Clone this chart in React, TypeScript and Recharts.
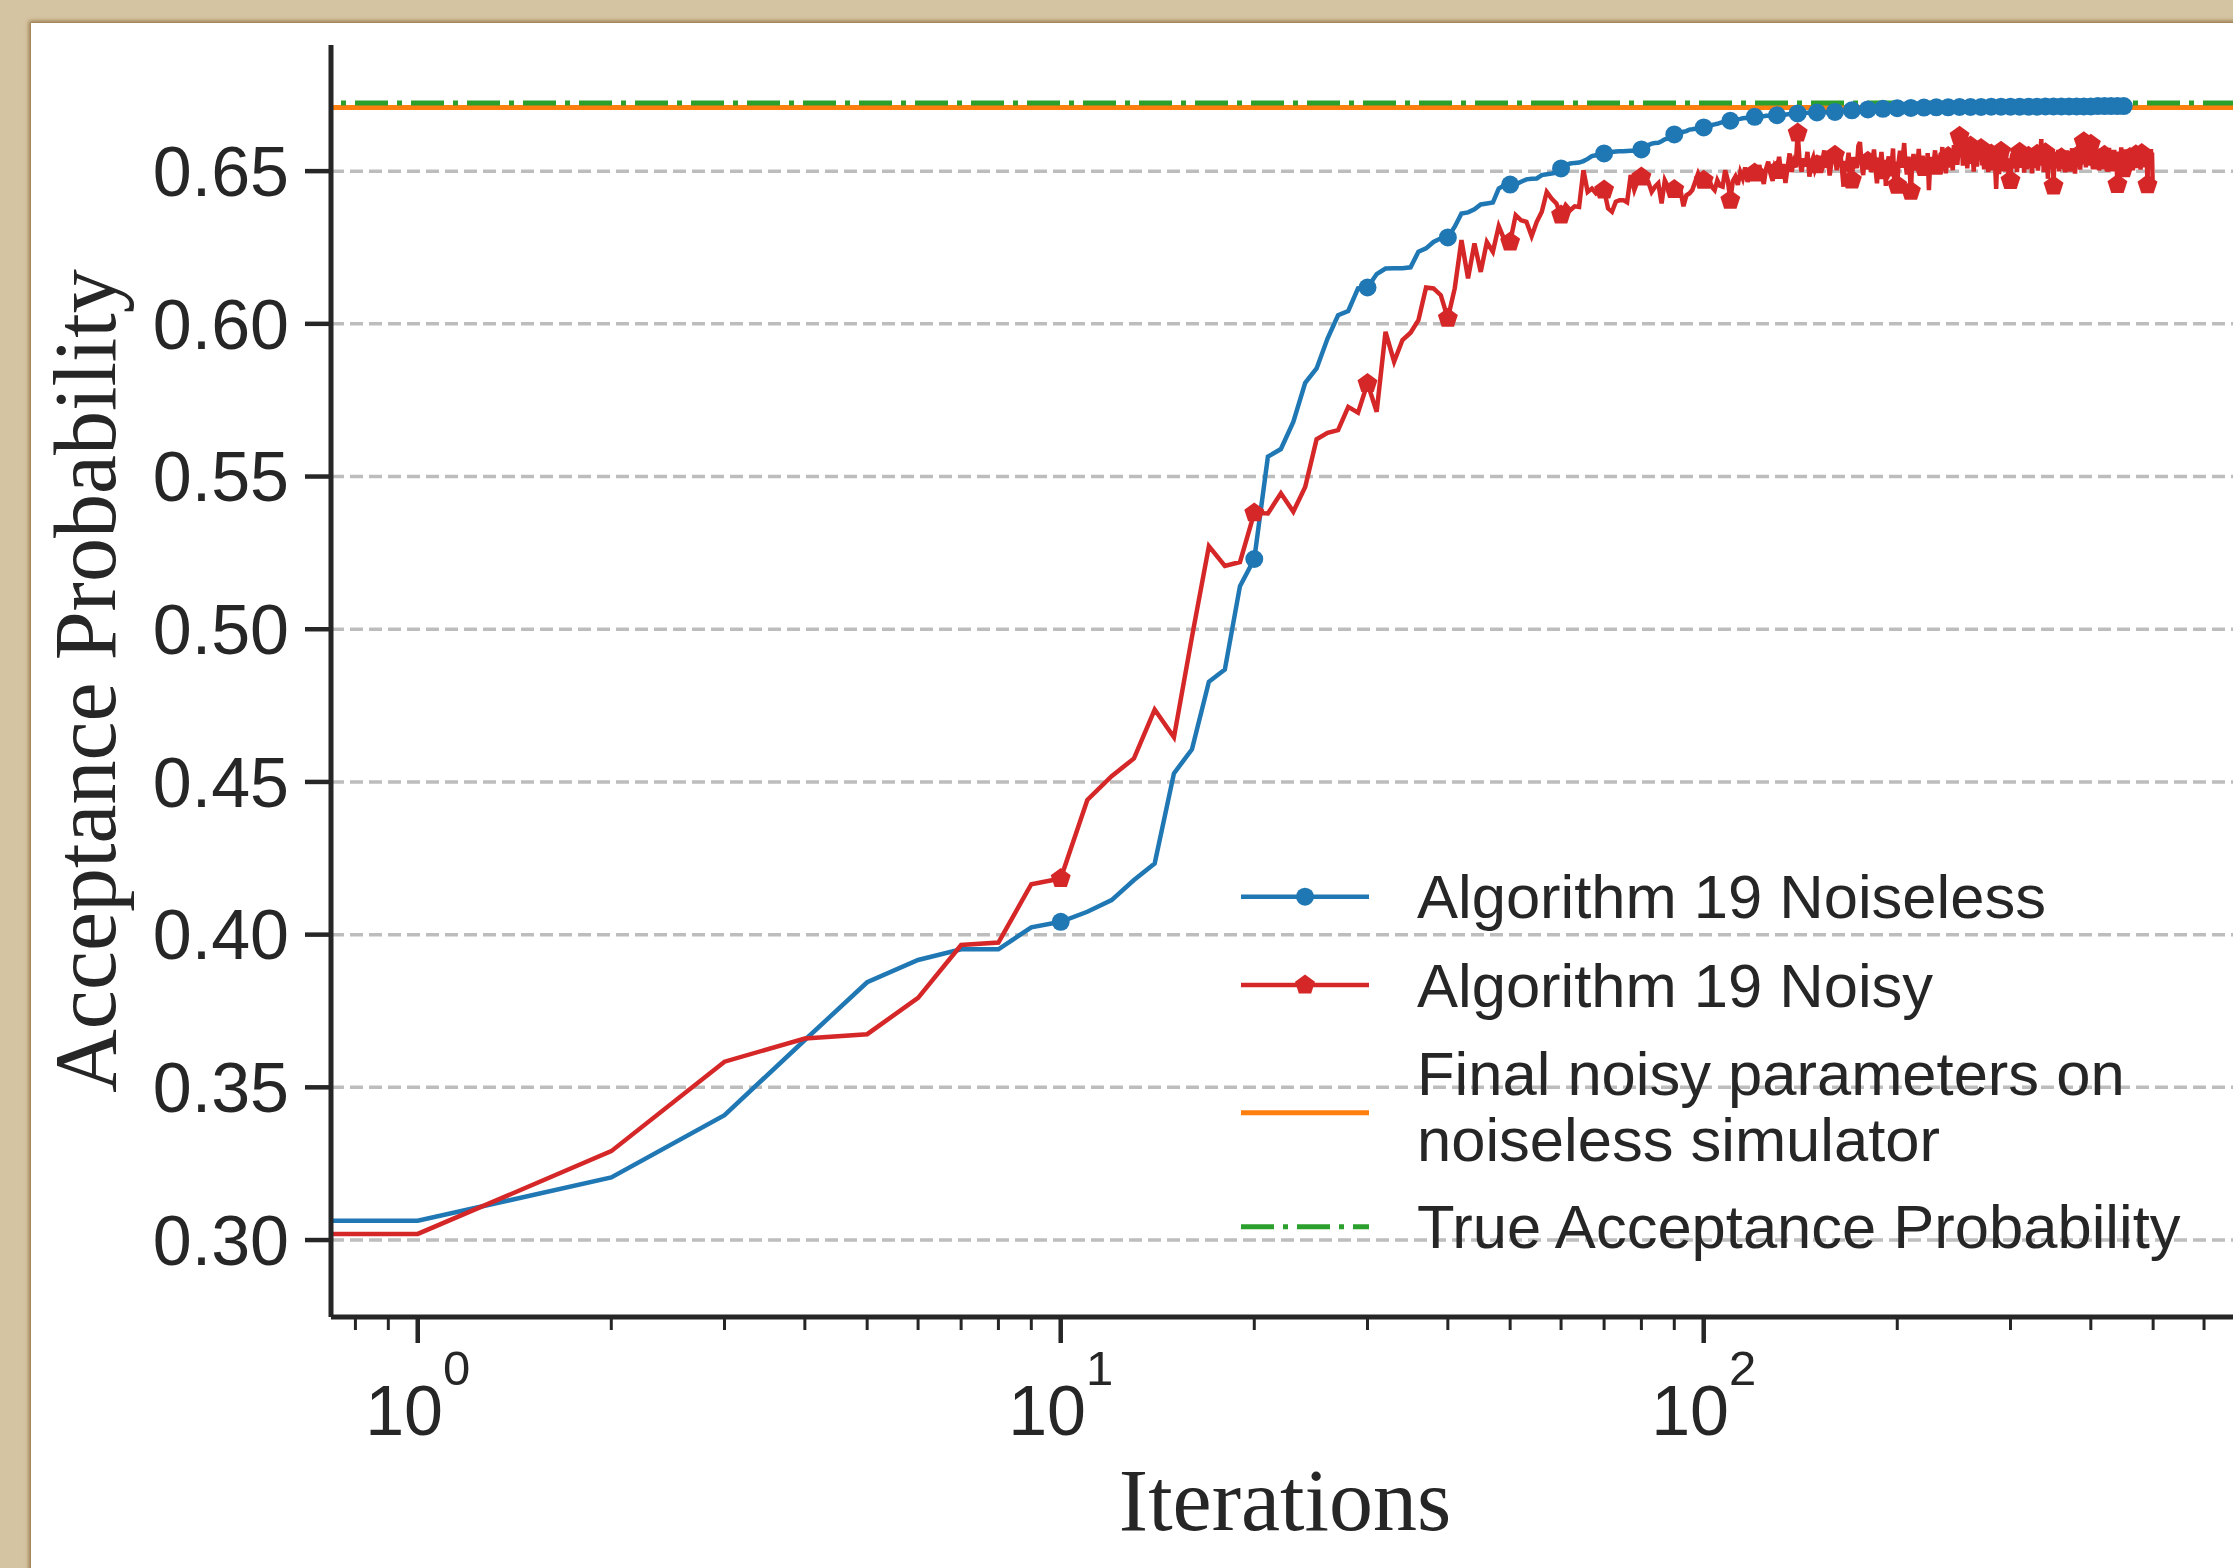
import { CartesianGrid, Legend, Line, LineChart, ReferenceLine, XAxis, YAxis } from "recharts";

// iteration index of each sample (0..499)
const iterations = Array.from({ length: 500 }, (_, i) => i);

// Algorithm 19, noiseless run
const noiselessValues = [
  0.3063, 0.3063, 0.3205, 0.3409, 0.3655, 0.3844, 0.3917, 0.3952, 0.3952, 0.4024,
  0.4042, 0.4075, 0.4113, 0.4179, 0.4233, 0.4528, 0.4607, 0.4828, 0.4868, 0.5141,
  0.5230, 0.5565, 0.5590, 0.5679, 0.5807, 0.5854, 0.5952, 0.6028, 0.6042, 0.6116,
  0.6119, 0.6163, 0.6181, 0.6182, 0.6182, 0.6185, 0.6236, 0.6247, 0.6268, 0.6280,
  0.6283, 0.6318, 0.6361, 0.6365, 0.6375, 0.6391, 0.6394, 0.6397, 0.6443, 0.6454,
  0.6456, 0.6456, 0.6465, 0.6473, 0.6475, 0.6476, 0.6487, 0.6490, 0.6492, 0.6495,
  0.6509, 0.6520, 0.6525, 0.6527, 0.6528, 0.6533, 0.6540, 0.6549, 0.6552, 0.6555,
  0.6558, 0.6561, 0.6563, 0.6564, 0.6565, 0.6565, 0.6566, 0.6567, 0.6567, 0.6569,
  0.6571, 0.6580, 0.6585, 0.6590, 0.6592, 0.6593, 0.6598, 0.6604, 0.6607, 0.6614,
  0.6620, 0.6624, 0.6627, 0.6629, 0.6631, 0.6636, 0.6637, 0.6639, 0.6640, 0.6642,
  0.6643, 0.6645, 0.6648, 0.6651, 0.6653, 0.6655, 0.6658, 0.6660, 0.6662, 0.6664,
  0.6665, 0.6667, 0.6669, 0.6670, 0.6671, 0.6673, 0.6674, 0.6675, 0.6676, 0.6677,
  0.6678, 0.6679, 0.6679, 0.6680, 0.6680, 0.6681, 0.6681, 0.6682, 0.6682, 0.6683,
  0.6683, 0.6684, 0.6684, 0.6685, 0.6685, 0.6686, 0.6687, 0.6687, 0.6688, 0.6688,
  0.6689, 0.6689, 0.6690, 0.6690, 0.6690, 0.6691, 0.6691, 0.6691, 0.6692, 0.6692,
  0.6692, 0.6692, 0.6693, 0.6693, 0.6693, 0.6693, 0.6694, 0.6694, 0.6694, 0.6694,
  0.6694, 0.6695, 0.6695, 0.6696, 0.6696, 0.6697, 0.6697, 0.6698, 0.6698, 0.6699,
  0.6699, 0.6699, 0.6700, 0.6700, 0.6700, 0.6701, 0.6701, 0.6701, 0.6702, 0.6702,
  0.6702, 0.6702, 0.6703, 0.6703, 0.6703, 0.6703, 0.6704, 0.6704, 0.6704, 0.6704,
  0.6704, 0.6705, 0.6705, 0.6705, 0.6705, 0.6705, 0.6705, 0.6706, 0.6706, 0.6706,
  0.6706, 0.6706, 0.6706, 0.6706, 0.6707, 0.6707, 0.6707, 0.6707, 0.6707, 0.6707,
  0.6707, 0.6707, 0.6708, 0.6708, 0.6708, 0.6708, 0.6708, 0.6708, 0.6708, 0.6708,
  0.6708, 0.6708, 0.6708, 0.6709, 0.6709, 0.6709, 0.6709, 0.6709, 0.6709, 0.6709,
  0.6709, 0.6709, 0.6709, 0.6709, 0.6709, 0.6709, 0.6709, 0.6709, 0.6709, 0.6709,
  0.6709, 0.6709, 0.6709, 0.6710, 0.6710, 0.6710, 0.6710, 0.6710, 0.6710, 0.6710,
  0.6710, 0.6710, 0.6710, 0.6710, 0.6710, 0.6710, 0.6710, 0.6710, 0.6710, 0.6710,
  0.6710, 0.6710, 0.6710, 0.6710, 0.6710, 0.6710, 0.6710, 0.6710, 0.6710, 0.6710,
  0.6710, 0.6710, 0.6710, 0.6710, 0.6710, 0.6710, 0.6710, 0.6710, 0.6710, 0.6710,
  0.6711, 0.6711, 0.6711, 0.6711, 0.6711, 0.6711, 0.6711, 0.6711, 0.6711, 0.6711,
  0.6711, 0.6711, 0.6711, 0.6711, 0.6711, 0.6711, 0.6711, 0.6711, 0.6711, 0.6711,
  0.6711, 0.6711, 0.6711, 0.6711, 0.6711, 0.6711, 0.6711, 0.6711, 0.6711, 0.6711,
  0.6711, 0.6711, 0.6711, 0.6711, 0.6711, 0.6711, 0.6711, 0.6711, 0.6711, 0.6711,
  0.6711, 0.6711, 0.6711, 0.6711, 0.6711, 0.6711, 0.6711, 0.6711, 0.6711, 0.6711,
  0.6711, 0.6711, 0.6711, 0.6711, 0.6711, 0.6711, 0.6711, 0.6711, 0.6711, 0.6711,
  0.6712, 0.6712, 0.6712, 0.6712, 0.6712, 0.6712, 0.6712, 0.6712, 0.6712, 0.6712,
  0.6712, 0.6712, 0.6712, 0.6712, 0.6712, 0.6712, 0.6712, 0.6712, 0.6712, 0.6712,
  0.6712, 0.6712, 0.6712, 0.6712, 0.6712, 0.6712, 0.6712, 0.6712, 0.6712, 0.6712,
  0.6712, 0.6712, 0.6712, 0.6712, 0.6712, 0.6712, 0.6712, 0.6712, 0.6712, 0.6712,
  0.6712, 0.6712, 0.6712, 0.6712, 0.6712, 0.6712, 0.6712, 0.6712, 0.6712, 0.6712,
  0.6712, 0.6712, 0.6712, 0.6712, 0.6712, 0.6712, 0.6712, 0.6712, 0.6712, 0.6712,
  0.6712, 0.6712, 0.6712, 0.6712, 0.6712, 0.6712, 0.6712, 0.6712, 0.6712, 0.6712,
  0.6713, 0.6713, 0.6713, 0.6713, 0.6713, 0.6713, 0.6713, 0.6713, 0.6713, 0.6713,
  0.6713, 0.6713, 0.6713, 0.6713, 0.6713, 0.6713, 0.6713, 0.6713, 0.6713, 0.6713,
  0.6713, 0.6713, 0.6713, 0.6713, 0.6713, 0.6713, 0.6713, 0.6713, 0.6713, 0.6713,
  0.6713, 0.6713, 0.6713, 0.6713, 0.6713, 0.6713, 0.6713, 0.6713, 0.6713, 0.6713,
  0.6713, 0.6713, 0.6713, 0.6713, 0.6713, 0.6713, 0.6713, 0.6713, 0.6713, 0.6713,
];

// Algorithm 19, noisy run
const noisyValues = [
  0.3020, 0.3020, 0.3291, 0.3584, 0.3660, 0.3674, 0.3793, 0.3966, 0.3974, 0.4165,
  0.4184, 0.4441, 0.4519, 0.4577, 0.4737, 0.4646, 0.4975, 0.5272, 0.5207, 0.5220,
  0.5381, 0.5379, 0.5445, 0.5385, 0.5466, 0.5622, 0.5643, 0.5652, 0.5728, 0.5709,
  0.5805, 0.5712, 0.5974, 0.5876, 0.5947, 0.5971, 0.6012, 0.6119, 0.6116, 0.6094,
  0.6018, 0.6116, 0.6274, 0.6149, 0.6263, 0.6170, 0.6268, 0.6236, 0.6320, 0.6274,
  0.6268, 0.6356, 0.6339, 0.6334, 0.6287, 0.6334, 0.6367, 0.6432, 0.6410, 0.6394,
  0.6356, 0.6389, 0.6372, 0.6385, 0.6383, 0.6503, 0.6432, 0.6443, 0.6427, 0.6438,
  0.6438, 0.6378, 0.6367, 0.6400, 0.6405, 0.6405, 0.6398, 0.6487, 0.6438, 0.6470,
  0.6481, 0.6470, 0.6465, 0.6432, 0.6449, 0.6460, 0.6394, 0.6470, 0.6449, 0.6438,
  0.6440, 0.6443, 0.6438, 0.6385, 0.6421, 0.6427, 0.6438, 0.6465, 0.6492, 0.6470,
  0.6470, 0.6462, 0.6471, 0.6448, 0.6438, 0.6470, 0.6452, 0.6449, 0.6503, 0.6470,
  0.6405, 0.6468, 0.6482, 0.6455, 0.6497, 0.6476, 0.6512, 0.6465, 0.6489, 0.6503,
  0.6494, 0.6471, 0.6520, 0.6486, 0.6458, 0.6507, 0.6531, 0.6492, 0.6468, 0.6515,
  0.6502, 0.6547, 0.6489, 0.6523, 0.6461, 0.6510, 0.6558, 0.6497, 0.6530, 0.6512,
  0.6625, 0.6531, 0.6498, 0.6542, 0.6515, 0.6563, 0.6482, 0.6527, 0.6544, 0.6505,
  0.6521, 0.6550, 0.6497, 0.6536, 0.6568, 0.6511, 0.6540, 0.6486, 0.6529, 0.6556,
  0.6552, 0.6503, 0.6537, 0.6565, 0.6512, 0.6449, 0.6533, 0.6519, 0.6560, 0.6498,
  0.6471, 0.6546, 0.6528, 0.6510, 0.6583, 0.6595, 0.6524, 0.6487, 0.6541, 0.6515,
  0.6532, 0.6556, 0.6497, 0.6529, 0.6571, 0.6508, 0.6460, 0.6544, 0.6518, 0.6563,
  0.6501, 0.6537, 0.6452, 0.6526, 0.6548, 0.6483, 0.6519, 0.6574, 0.6445, 0.6531,
  0.6454, 0.6532, 0.6567, 0.6511, 0.6540, 0.6592, 0.6523, 0.6489, 0.6547, 0.6509,
  0.6434, 0.6528, 0.6556, 0.6502, 0.6538, 0.6517, 0.6573, 0.6495, 0.6531, 0.6550,
  0.6512, 0.6541, 0.6488, 0.6559, 0.6438, 0.6524, 0.6546, 0.6507, 0.6532, 0.6568,
  0.6516, 0.6535, 0.6497, 0.6554, 0.6522, 0.6579, 0.6509, 0.6540, 0.6493, 0.6531,
  0.6548, 0.6512, 0.6567, 0.6529, 0.6503, 0.6585, 0.6536, 0.6598, 0.6521, 0.6572,
  0.6614, 0.6545, 0.6592, 0.6518, 0.6577, 0.6536, 0.6589, 0.6509, 0.6562, 0.6531,
  0.6582, 0.6524, 0.6557, 0.6498, 0.6570, 0.6541, 0.6515, 0.6583, 0.6537, 0.6552,
  0.6574, 0.6519, 0.6548, 0.6506, 0.6561, 0.6532, 0.6578, 0.6497, 0.6543, 0.6525,
  0.6556, 0.6503, 0.6539, 0.6568, 0.6512, 0.6442, 0.6529, 0.6551, 0.6490, 0.6536,
  0.6565, 0.6517, 0.6548, 0.6499, 0.6533, 0.6571, 0.6514, 0.6542, 0.6486, 0.6527,
  0.6469, 0.6538, 0.6557, 0.6508, 0.6545, 0.6519, 0.6566, 0.6497, 0.6532, 0.6553,
  0.6562, 0.6511, 0.6540, 0.6523, 0.6569, 0.6495, 0.6537, 0.6558, 0.6506, 0.6534,
  0.6549, 0.6516, 0.6572, 0.6527, 0.6493, 0.6546, 0.6520, 0.6563, 0.6510, 0.6538,
  0.6555, 0.6502, 0.6541, 0.6526, 0.6567, 0.6605, 0.6518, 0.6544, 0.6497, 0.6533,
  0.6560, 0.6512, 0.6539, 0.6475, 0.6528, 0.6552, 0.6506, 0.6543, 0.6521, 0.6566,
  0.6451, 0.6534, 0.6558, 0.6509, 0.6546, 0.6523, 0.6570, 0.6499, 0.6537, 0.6515,
  0.6544, 0.6563, 0.6508, 0.6531, 0.6552, 0.6496, 0.6540, 0.6568, 0.6517, 0.6535,
  0.6526, 0.6557, 0.6503, 0.6542, 0.6575, 0.6514, 0.6538, 0.6561, 0.6492, 0.6530,
  0.6548, 0.6519, 0.6566, 0.6527, 0.6553, 0.6505, 0.6541, 0.6584, 0.6522, 0.6547,
  0.6596, 0.6531, 0.6558, 0.6512, 0.6573, 0.6536, 0.6591, 0.6518, 0.6549, 0.6527,
  0.6588, 0.6539, 0.6562, 0.6507, 0.6551, 0.6594, 0.6528, 0.6545, 0.6516, 0.6569,
  0.6533, 0.6557, 0.6502, 0.6540, 0.6574, 0.6521, 0.6548, 0.6510, 0.6563, 0.6536,
  0.6552, 0.6514, 0.6567, 0.6529, 0.6543, 0.6498, 0.6538, 0.6576, 0.6519, 0.6550,
  0.6527, 0.6561, 0.6506, 0.6545, 0.6532, 0.6570, 0.6515, 0.6541, 0.6558, 0.6503,
  0.6456, 0.6536, 0.6564, 0.6511, 0.6547, 0.6525, 0.6578, 0.6518, 0.6540, 0.6555,
  0.6508, 0.6543, 0.6571, 0.6520, 0.6537, 0.6562, 0.6499, 0.6534, 0.6553, 0.6516,
  0.6545, 0.6568, 0.6513, 0.6539, 0.6557, 0.6502, 0.6548, 0.6526, 0.6573, 0.6531,
  0.6554, 0.6510, 0.6542, 0.6566, 0.6521, 0.6547, 0.6535, 0.6563, 0.6505, 0.6540,
  0.6558, 0.6517, 0.6572, 0.6529, 0.6546, 0.6512, 0.6561, 0.6537, 0.6569, 0.6523,
  0.6455, 0.6549, 0.6566, 0.6531, 0.6558, 0.6514, 0.6572, 0.6538, 0.6561, 0.6472,
];

// horizontal reference levels
const finalNoisyOnNoiseless = 0.6708;
const trueAcceptance = 0.6723;

const yTicks = [0.3, 0.35, 0.4, 0.45, 0.5, 0.55, 0.6, 0.65];
const majorXTicks = [1, 10, 100];
const minorXTicks = [0.8, 0.9, 2, 3, 4, 5, 6, 7, 8, 9, 20, 30, 40, 50, 60, 70, 80, 90, 200, 300, 400, 500, 600];
const allXTicks = [...majorXTicks, ...minorXTicks].sort((a, b) => a - b);

const legendLabels = [
  ["Algorithm 19 Noiseless"],
  ["Algorithm 19 Noisy"],
  ["Final noisy parameters on", "noiseless simulator"],
  ["True Acceptance Probability"],
];

// a log axis cannot show 0, so iteration 0 sits off the left edge (like matplotlib's clip)
const LOG_FLOOR = 0.5;

const chartData = iterations.map((step, i) => ({
  step,
  iteration: step === 0 ? LOG_FLOOR : step,
  noiseless: noiselessValues[i],
  noisy: noisyValues[i],
}));

const INK = "#262626";
const BLUE = "#1f77b4";
const RED = "#d62728";
const ORANGE = "#ff7f0e";
const GREEN = "#2ca02c";
const SANS = "'Liberation Sans', Arial, Helvetica, sans-serif";
const SERIF = "'Liberation Serif', 'Times New Roman', serif";
const DASHDOT = "33 9 5 9";
const LINE_W = 4.5;
const SPINE_W = 5;

function pentagon(cx: number, cy: number, r: number) {
  const pts: string[] = [];
  for (let k = 0; k < 5; k++) {
    const a = ((-90 + 72 * k) * Math.PI) / 180;
    pts.push(`${cx + r * Math.cos(a)},${cy + r * Math.sin(a)}`);
  }
  return pts.join(" ");
}

const NoiselessDot = (p: any) => {
  if (p.payload.step % 10 !== 0 || p.cx == null) return <g key={`b${p.index}`} />;
  return <circle key={`b${p.index}`} cx={p.cx} cy={p.cy} r={9} fill={BLUE} />;
};

const NoisyDot = (p: any) => {
  if (p.payload.step % 10 !== 0 || p.cx == null) return <g key={`r${p.index}`} />;
  return <polygon key={`r${p.index}`} points={pentagon(p.cx, p.cy, 10.5)} fill={RED} />;
};

const XTick = (p: any) => {
  const v = p.payload.value;
  const major = majorXTicks.includes(v);
  return (
    <g>
      <line x1={p.x} x2={p.x} y1={p.y} y2={p.y + (major ? 26 : 13)} stroke={INK} strokeWidth={major ? 4.5 : 3} />
      {major && (
        <text x={p.x} y={p.y + 118} textAnchor="middle" fontFamily={SANS} fontSize={70} fill={INK}>
          10
          <tspan dy={-50} fontSize={49}>
            {Math.round(Math.log10(v))}
          </tspan>
        </text>
      )}
    </g>
  );
};

const YTitle = (props: any) => {
  const vb = props.viewBox ?? { x: 0, y: 45, width: 331, height: 1272 };
  const x = vb.x + 115;
  const y = vb.y + vb.height / 2;
  return (
    <text x={x} y={y} transform={`rotate(-90 ${x} ${y})`} textAnchor="middle" fontFamily={SERIF} fontSize={88} fill={INK}>
      Acceptance Probability
    </text>
  );
};

const XTitle = (props: any) => {
  const vb = props.viewBox ?? { x: 331, y: 1317, width: 1908, height: 251 };
  return (
    <text x={vb.x + vb.width / 2} y={vb.y + 213} textAnchor="middle" fontFamily={SERIF} fontSize={88} fill={INK}>
      Iterations
    </text>
  );
};

const legendRows = [56.7, 145, 272.7, 386.7];

const LegendBox = () => (
  <svg width={1040} height={440} style={{ overflow: "visible", display: "block" }}>
    {legendRows.map((ly, i) => {
      const lines = legendLabels[i];
      const firstBase = lines.length > 1 ? ly - 17.7 : ly + 21.5;
      return (
        <g key={i}>
          {i === 0 && (
            <g>
              <line x1={41} x2={169} y1={ly} y2={ly} stroke={BLUE} strokeWidth={LINE_W} />
              <circle cx={105} cy={ly} r={9} fill={BLUE} />
            </g>
          )}
          {i === 1 && (
            <g>
              <line x1={41} x2={169} y1={ly} y2={ly} stroke={RED} strokeWidth={LINE_W} />
              <polygon points={pentagon(105, ly, 10.5)} fill={RED} />
            </g>
          )}
          {i === 2 && <line x1={41} x2={169} y1={ly} y2={ly} stroke={ORANGE} strokeWidth={5} />}
          {i === 3 && <line x1={41} x2={169} y1={ly} y2={ly} stroke={GREEN} strokeWidth={5} strokeDasharray={DASHDOT} />}
          <text fontFamily={SANS} fontSize={61.5} fill={INK}>
            {lines.map((t, j) => (
              <tspan key={j} x={217} y={firstBase + j * 66}>
                {t}
              </tspan>
            ))}
          </text>
        </g>
      );
    })}
  </svg>
);

export default function App() {
  return (
    <div
      style={{
        position: "fixed",
        left: 0,
        top: 0,
        width: 2233,
        height: 1568,
        overflow: "hidden",
        background: "#d5c4a2",
      }}
    >
      <div
        style={{
          position: "absolute",
          left: 31,
          top: 23,
          width: 2300,
          height: 1600,
          background: "#ffffff",
          boxShadow: "0 0 4px 2px rgba(140, 105, 55, 0.85)",
        }}
      />
      <div style={{ position: "absolute", left: 0, top: 0 }}>
        <LineChart width={2249} height={1568} data={chartData} margin={{ top: 45, right: 10, bottom: 0, left: 0 }}>
          <CartesianGrid
            xAxisId="frame"
            verticalValues={majorXTicks}
            horizontalValues={yTicks}
            stroke="#bdbdbd"
            strokeWidth={3.5}
            strokeDasharray="13 6"
          />
          <XAxis
            xAxisId="main"
            dataKey="iteration"
            type="number"
            scale="log"
            domain={[0.733, 680]}
            allowDataOverflow
            ticks={allXTicks}
            interval={0}
            tickLine={false}
            tickSize={0}
            tickMargin={0}
            tick={(p: any) => <XTick {...p} />}
            axisLine={{ stroke: INK, strokeWidth: SPINE_W }}
            height={251}
            label={{ content: (p: any) => <XTitle {...p} /> }}
          />
          <XAxis
            xAxisId="frame"
            orientation="top"
            type="number"
            scale="log"
            domain={[0.733, 680]}
            allowDataOverflow
            ticks={majorXTicks}
            tick={false}
            tickLine={false}
            height={0}
            axisLine={{ stroke: INK, strokeWidth: SPINE_W }}
          />
          <YAxis
            type="number"
            domain={[0.2748, 0.6913]}
            allowDataOverflow
            ticks={yTicks}
            interval={0}
            width={331}
            tickSize={26}
            tickMargin={16}
            tickFormatter={(v: number) => v.toFixed(2)}
            tick={{ fontSize: 70, fill: INK, fontFamily: SANS }}
            tickLine={{ stroke: INK, strokeWidth: 4.5 }}
            axisLine={{ stroke: INK, strokeWidth: SPINE_W }}
            label={{ content: (p: any) => <YTitle {...p} /> }}
          />
          <Line
            xAxisId="main"
            type="linear"
            dataKey="noiseless"
            name="Algorithm 19 Noiseless"
            stroke={BLUE}
            strokeWidth={LINE_W}
            dot={NoiselessDot}
            activeDot={false}
            isAnimationActive={false}
          />
          <Line
            xAxisId="main"
            type="linear"
            dataKey="noisy"
            name="Algorithm 19 Noisy"
            stroke={RED}
            strokeWidth={LINE_W}
            dot={NoisyDot}
            activeDot={false}
            isAnimationActive={false}
          />
          <ReferenceLine xAxisId="main" y={finalNoisyOnNoiseless} stroke={ORANGE} strokeWidth={5} />
          <ReferenceLine
            xAxisId="main"
            y={trueAcceptance}
            stroke={GREEN}
            strokeWidth={5}
            strokeDasharray={DASHDOT}
            strokeDashoffset={32}
          />
          <Legend
            layout="horizontal"
            verticalAlign="middle"
            align="center"
            content={() => <LegendBox />}
            wrapperStyle={{ left: 1200, top: 840, width: 1040, height: 440 }}
          />
        </LineChart>
      </div>
    </div>
  );
}
